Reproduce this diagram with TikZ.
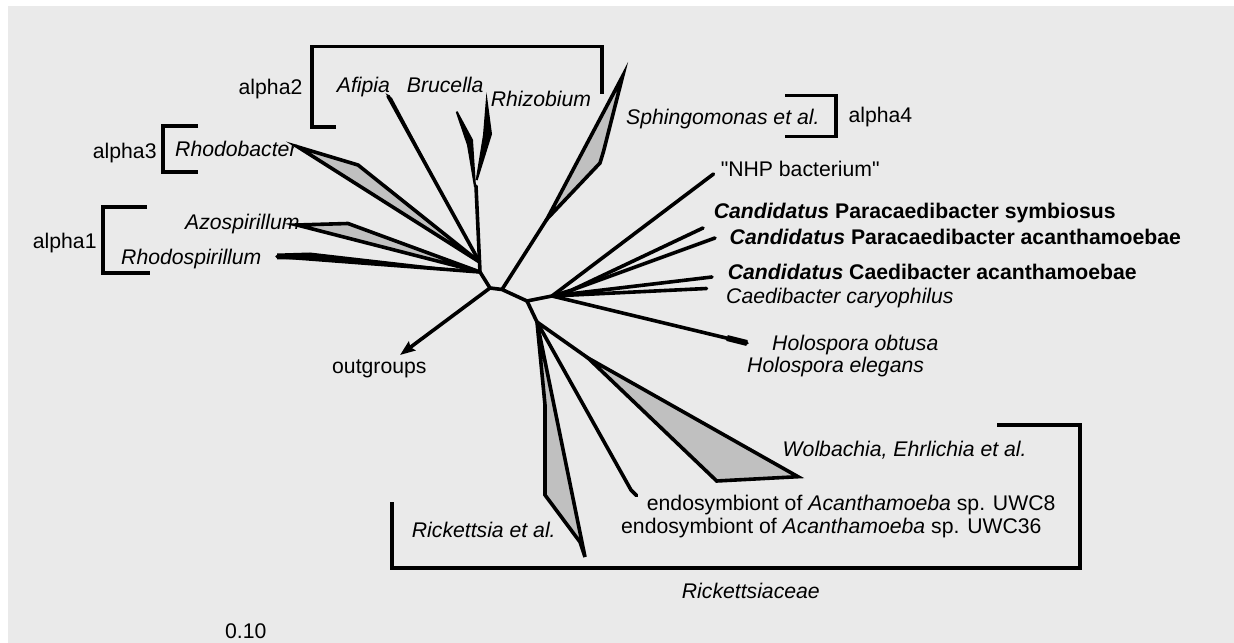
\documentclass[tikz,border=0pt]{standalone}
\usepackage{fontspec}
\setmainfont{Liberation Sans}
\newfontfamily\qfont{Liberation Sans}[Ligatures=TeXOff]
\usetikzlibrary{arrows.meta}
\definecolor{bg}{RGB}{234,234,234}
\definecolor{clade}{RGB}{192,192,192}
\begin{document}
\begin{tikzpicture}[x=1bp,y=-1bp,
  br/.style={line width=3.8bp, line cap=butt, line join=miter},
  tr/.style={line width=3.6bp, line cap=round, line join=round},
  wedge/.style={line width=3.6bp, line join=miter, fill=clade},
  spindle/.style={line width=2bp, line join=miter, fill=black},
  lbl/.style={inner sep=0pt, anchor=base west, font=\fontsize{21.2bp}{25bp}\selectfont},
  it/.style={lbl, font=\fontsize{21.2bp}{25bp}\selectfont\itshape}]
\useasboundingbox (0,0) rectangle (1234,643);
\fill[white] (0,0) rectangle (1234,643);
\fill[bg] (8,6) rectangle (1234,643);

% tree coordinates
\coordinate (A) at (490,288);
\coordinate (B) at (502,289.5);
\coordinate (C) at (527,301);
\coordinate (F) at (552,296);
\coordinate (G) at (572,290);
\coordinate (H) at (537,322);
\coordinate (D) at (480,272);
\coordinate (E) at (479.5,262);
\coordinate (S) at (476,186);
\coordinate (sph) at (547,219);
\coordinate (og) at (400,355);
\coordinate (W) at (588,358);

% backbone
\draw[tr] (D) -- (A) -- (B) -- (C) -- (F) -- (G);
\draw[tr] (C) -- (H);
\draw[tr] (B) -- (sph);
\draw[tr] (D) -- (S);
\draw[line width=3.6bp, -{Stealth[length=15bp,width=11bp,inset=2bp]}] (A) -- (og);

% alpha clades
\draw[wedge] (298,147) -- (358,165) -- (E) -- cycle;
\draw[wedge] (297,225) -- (348,223.5) -- (D) -- cycle;
\fill (277,253.5) -- (310,252.5) -- (D) -- (310,259.5) -- (277,259.5) -- cycle;
\draw[tr] (277,256.5) -- (D);
\fill (385.5,93) -- (392,98) -- (E) -- cycle;
\draw[tr] (388,96) -- (E);
\draw[spindle] (456.7,111.7) -- (472,140) -- (475,186.7) -- (468,145) -- cycle;
\draw[spindle] (486.7,101.7) -- (491,134) -- (476.7,180) -- (484,135) -- cycle;

% Sphingomonas
\draw[wedge] (sph) -- (622.7,76) -- (603.5,151.5) -- (600,163) -- cycle;

% right group
\coordinate (nhp) at (713.5,174);
\coordinate (ps) at (703,228);
\coordinate (pa) at (715,238);
\coordinate (ca) at (712,277);
\coordinate (cc) at (706.5,288.5);
\coordinate (ho) at (747,343);
\draw[tr] (F) -- (nhp);
\draw[tr] (G) -- (ps);
\draw[tr] (G) -- (pa);
\draw[tr] (F) -- (ca);
\draw[tr] (F) -- (cc);
\draw[tr] (F) -- (ho);
\draw[line width=6bp] (727,338) -- (ho);

% lower group
\draw[wedge] (H) -- (545,405) -- (545,495) -- (580,542) -- (585,557) -- cycle;
\draw[tr] (H) -- (631,490) -- (636.5,495.5);
\draw[tr] (H) -- (W);
\draw[wedge] (W) -- (798,476.7) -- (716.7,481) -- cycle;

% brackets
\draw[br] (336,127) -- (312,127) -- (312,46.5) -- (602,46.5) -- (602,94);
\draw[br] (198,126) -- (163,126) -- (163,172) -- (198,172);
\draw[br] (147,207) -- (103,207) -- (103,273) -- (150,273);
\draw[br] (785,95.5) -- (836,95.5) -- (836,136.5) -- (785,136.5);
\draw[br] (997,425) -- (1080,425) -- (1080,568) -- (392,568) -- (392,502);

% labels
\node[lbl] (la2) at (238.5,95) {alpha2};
\node[it] (lafi) at (336.7,93) {Afipia};
\node[it] (lbru) at (406.7,93) {Brucella};
\node[it] (lrhi) at (490.7,107) {Rhizobium};
\node[it] (lsph) at (626,125) {Sphingomonas et al.};
\node[lbl] (la4) at (848.3,122.7) {alpha4};
\node[lbl] (la3) at (92.7,159) {alpha3};
\node[it] (lrhb) at (175,157) {Rhodobacter};
\node[lbl] (la1) at (32.7,249) {alpha1};
\node[it] (lazo) at (185,230) {Azospirillum};
\node[it] (lrhs) at (121,265) {Rhodospirillum};
\node[lbl] (lnhp) at (720.6,177) {\qfont "NHP bacterium"};
\node[lbl] (lps) at (713.6,218.7) {\bfseries\itshape Candidatus\/ \upshape Paracaedibacter symbiosus};
\node[lbl] (lpa) at (729.5,245) {\bfseries\itshape Candidatus\/ \upshape Paracaedibacter acanthamoebae};
\node[lbl] (lca) at (727.7,280) {\bfseries\itshape Candidatus\/ \upshape Caedibacter acanthamoebae};
\node[it] (lcc) at (726,304) {Caedibacter caryophilus};
\node[it] (lho) at (772,351) {Holospora obtusa};
\node[it] (lhe) at (747,372.7) {Holospora elegans};
\node[lbl] (log) at (332,373) {outgroups};
\node[it] (lwol) at (782.5,456) {Wolbachia, Ehrlichia et al.};
\node[lbl] (le8) at (646.7,510.5) {endosymbiont of \textit{Acanthamoeba} sp. UWC8};
\node[lbl] (le36) at (621,533) {endosymbiont of \textit{Acanthamoeba} sp. UWC36};
\node[it] (lric) at (411.7,537.7) {Rickettsia et al.};
\node[it] (lrcc) at (681.7,598.7) {Rickettsiaceae};
\node[lbl] (lsc) at (225,638) {0.10};
\end{tikzpicture}
\end{document}
